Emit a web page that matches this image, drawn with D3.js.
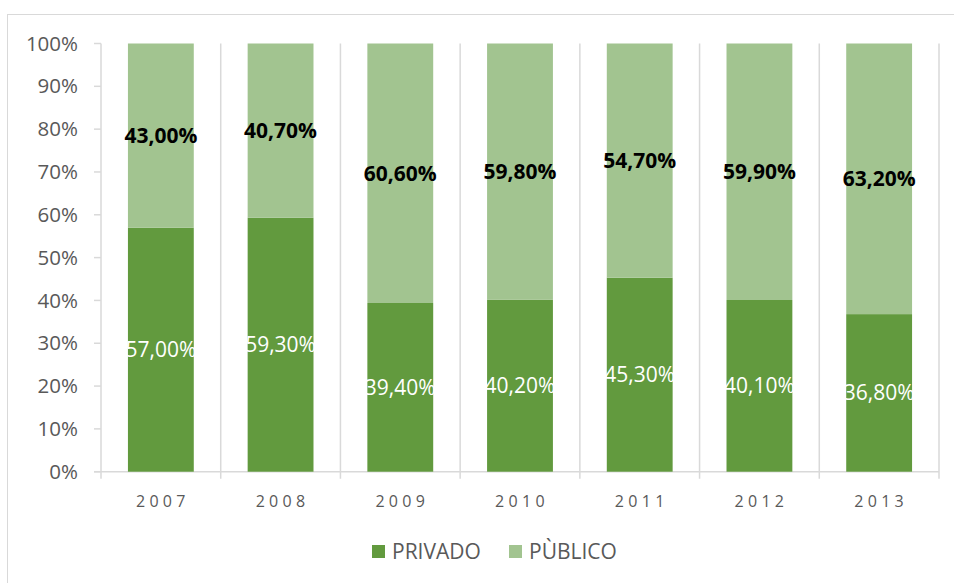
<!DOCTYPE html>
<html>
<head>
<meta charset="utf-8">
<script src="https://cdn.jsdelivr.net/npm/d3@7"></script>
<style>
  body { margin: 0; background: #fff; }
  svg { display: block; font-family: "Open Sans", sans-serif; }
</style>
</head>
<body>
<script>
// data
const years = ["2007", "2008", "2009", "2010", "2011", "2012", "2013"];
const privado = [57.0, 59.3, 39.4, 40.2, 45.3, 40.1, 36.8];
const publico = [43.0, 40.7, 60.6, 59.8, 54.7, 59.9, 63.2];
const yTicks = [0, 10, 20, 30, 40, 50, 60, 70, 80, 90, 100];
const seriesNames = ["PRIVADO", "PÙBLICO"];

const width = 954, height = 583;
const colDark = "#629a3e", colLight = "#a2c490", gridCol = "#d9d9d9", textCol = "#595959";

const svg = d3.select("body").append("svg")
    .attr("width", width)
    .attr("height", height);

// outer chart frame (only top and left visible)
svg.append("rect")
    .attr("x", 7.5).attr("y", 14.5)
    .attr("width", 960).attr("height", 600)
    .attr("fill", "none").attr("stroke", gridCol);

const plotLeft = 101, plotRight = 939, plotTop = 43.5, plotBottom = 471.7;

const x = d3.scaleBand().domain(years).range([plotLeft, plotRight])
    .paddingInner(0.45).paddingOuter(0.225);
const y = d3.scaleLinear().domain([0, 100]).range([plotBottom, plotTop]);
const step = x.step();

// category separators
const bounds = d3.range(years.length + 1).map(i => plotLeft + i * step);
svg.selectAll(".sep").data(bounds).enter().append("line")
    .attr("x1", d => d).attr("x2", d => d)
    .attr("y1", plotTop).attr("y2", plotBottom + 7)
    .attr("stroke", gridCol).attr("stroke-width", 1.5);

// baseline + y ticks
svg.append("line")
    .attr("x1", plotLeft - 7).attr("x2", plotRight)
    .attr("y1", plotBottom).attr("y2", plotBottom)
    .attr("stroke", gridCol).attr("stroke-width", 1.5);

svg.selectAll(".ytick").data(yTicks).enter().append("line")
    .attr("x1", plotLeft - 7).attr("x2", plotLeft)
    .attr("y1", d => y(d)).attr("y2", d => y(d))
    .attr("stroke", gridCol).attr("stroke-width", 1.5);

svg.selectAll(".ylab").data(yTicks).enter().append("text")
    .attr("x", 78).attr("y", d => y(d))
    .attr("dy", "0.35em")
    .attr("text-anchor", "end")
    .attr("font-size", 20.5)
    .attr("fill", textCol)
    .text(d => d + "%");

// x labels
svg.selectAll(".xlab").data(years).enter().append("text")
    .attr("x", d => x(d) + x.bandwidth() / 2 + 2)
    .attr("y", 507)
    .attr("text-anchor", "middle")
    .attr("font-size", 16)
    .attr("letter-spacing", 4.3)
    .attr("fill", textCol)
    .text(d => d);

const fmt = v => v.toFixed(2).replace(".", ",") + "%";

// bars
const rows = years.map((yr, i) => ({ yr, p: privado[i], q: publico[i] }));

svg.selectAll(".bp").data(rows).enter().append("rect")
    .attr("x", d => x(d.yr)).attr("width", x.bandwidth())
    .attr("y", d => y(d.p)).attr("height", d => y(0) - y(d.p))
    .attr("fill", colDark);

svg.selectAll(".bq").data(rows).enter().append("rect")
    .attr("x", d => x(d.yr)).attr("width", x.bandwidth())
    .attr("y", d => y(d.p + d.q)).attr("height", d => y(d.p) - y(d.p + d.q))
    .attr("fill", colLight);

// value labels
svg.selectAll(".lp").data(rows).enter().append("text")
    .attr("x", d => x(d.yr) + x.bandwidth() / 2)
    .attr("y", d => y(d.p / 2))
    .attr("dy", "0.35em")
    .attr("text-anchor", "middle")
    .attr("font-size", 21)
    .attr("fill", "#fff")
    .text(d => fmt(d.p));

svg.selectAll(".lq").data(rows).enter().append("text")
    .attr("x", d => x(d.yr) + x.bandwidth() / 2)
    .attr("y", d => y(d.p + d.q / 2))
    .attr("dy", "0.35em")
    .attr("text-anchor", "middle")
    .attr("font-size", 21)
    .attr("font-weight", "bold")
    .attr("fill", "#000")
    .text(d => fmt(d.q));

// legend
const legend = svg.append("g");
const legendX = [372, 509];
seriesNames.forEach((name, i) => {
    legend.append("rect")
        .attr("x", legendX[i]).attr("y", 545)
        .attr("width", 13).attr("height", 13)
        .attr("fill", i === 0 ? colDark : colLight);
    legend.append("text")
        .attr("x", legendX[i] + 20).attr("y", 558.5)
        .attr("font-size", 21)
        .attr("fill", textCol)
        .text(name);
});
</script>
</body>
</html>
